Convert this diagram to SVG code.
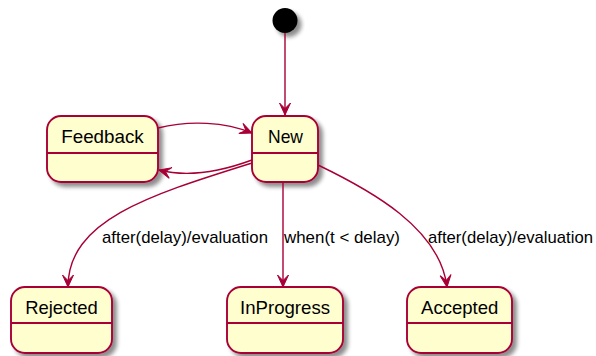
<svg xmlns="http://www.w3.org/2000/svg" width="596" height="356" viewBox="0 0 596 356">
  <defs>
    <filter id="shadow" x="-20%" y="-20%" width="150%" height="150%">
      <feGaussianBlur in="SourceAlpha" stdDeviation="2"/>
      <feOffset dx="4" dy="4" result="blur"/>
      <feComponentTransfer><feFuncA type="linear" slope="0.45"/></feComponentTransfer>
      <feMerge><feMergeNode/><feMergeNode in="SourceGraphic"/></feMerge>
    </filter>
    <marker id="arrow" viewBox="-13 -7 14 14" refX="0" refY="0" markerWidth="14" markerHeight="14" markerUnits="userSpaceOnUse" orient="auto">
      <path d="M0,0 L-12,-5.5 L-6.5,0 L-12,5.5 Z" fill="#A80036" stroke="#A80036" stroke-width="1" stroke-linejoin="miter"/>
    </marker>
  </defs>
  <style>
    .state { fill: #FEFECE; stroke: #A80036; stroke-width: 1.9; }
    .div { stroke: #A80036; stroke-width: 1.9; }
    .name { font-family: "Liberation Sans", Arial, sans-serif; font-size: 19px; fill: #000; text-anchor: middle; }
    .lbl { font-family: "Liberation Sans", Arial, sans-serif; font-size: 17px; fill: #000; }
    .edge { fill: none; stroke: #A80036; stroke-width: 1.4; marker-end: url(#arrow); }
  </style>
  <rect width="596" height="356" fill="#FFFFFF"/>

  <g id="start">
    <circle cx="285" cy="20.5" r="12.5" fill="#000" filter="url(#shadow)"/>
  </g>

  <g id="Feedback">
    <rect class="state" x="47" y="116" width="111" height="66" rx="14" ry="14" filter="url(#shadow)"/>
    <line class="div" x1="47" y1="153" x2="158" y2="153"/>
    <text class="name" x="102.5" y="142.5" textLength="82.6" lengthAdjust="spacingAndGlyphs">Feedback</text>
  </g>

  <g id="New">
    <rect class="state" x="252" y="116" width="66" height="66" rx="14" ry="14" filter="url(#shadow)"/>
    <line class="div" x1="252" y1="153" x2="318" y2="153"/>
    <text class="name" x="285.5" y="142.5" textLength="35" lengthAdjust="spacingAndGlyphs">New</text>
  </g>

  <g id="Rejected">
    <rect class="state" x="11" y="287" width="101" height="66" rx="14" ry="14" filter="url(#shadow)"/>
    <line class="div" x1="11" y1="323" x2="112" y2="323"/>
    <text class="name" x="61.5" y="313.5" textLength="72.7" lengthAdjust="spacingAndGlyphs">Rejected</text>
  </g>

  <g id="InProgress">
    <rect class="state" x="227" y="287" width="116" height="66" rx="14" ry="14" filter="url(#shadow)"/>
    <line class="div" x1="227" y1="323" x2="343" y2="323"/>
    <text class="name" x="285" y="313.5" textLength="90" lengthAdjust="spacingAndGlyphs">InProgress</text>
  </g>

  <g id="Accepted">
    <rect class="state" x="407" y="287" width="105" height="66" rx="14" ry="14" filter="url(#shadow)"/>
    <line class="div" x1="407" y1="323" x2="512" y2="323"/>
    <text class="name" x="459.7" y="313.5" textLength="77.3" lengthAdjust="spacingAndGlyphs">Accepted</text>
  </g>

  <g id="connectors">
    <path class="edge" d="M285,33 L285,115"/>
    <path class="edge" d="M158,128 C190,120 225,122 252,133"/>
    <path class="edge" d="M252,160 C225,170 190,178 159,170"/>
    <path class="edge" d="M252,163 C150,195 68,220 68,287"/>
    <path class="edge" d="M283,183 L283,287"/>
    <path class="edge" d="M318,165 C370,190 440,228 447,287"/>
    <text class="lbl" x="102" y="242.5" textLength="166" lengthAdjust="spacingAndGlyphs">after(delay)/evaluation</text>
    <text class="lbl" x="284" y="242.5" textLength="116" lengthAdjust="spacingAndGlyphs">when(t &lt; delay)</text>
    <text class="lbl" x="428" y="242.5" textLength="165" lengthAdjust="spacingAndGlyphs">after(delay)/evaluation</text>
  </g>
</svg>
